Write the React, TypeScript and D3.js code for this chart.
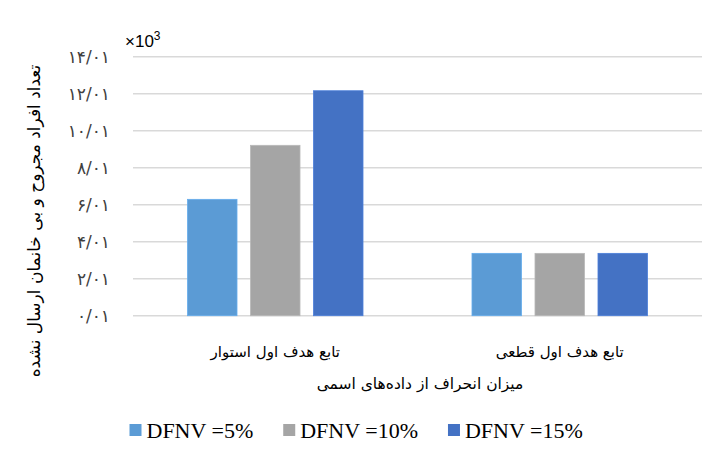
import * as d3 from 'd3';
import { useEffect, useRef } from 'react';

const width = 722;
const height = 464;
const marginTop = 56.7;
const marginLeft = 133;
const marginRight = 20;
const plotBottom = 315.7;

const categories = ['تابع هدف اول استوار', 'تابع هدف اول قطعی'];
const series = ['DFNV =5%', 'DFNV =10%', 'DFNV =15%'];
const colors = ['#5B9BD5', '#A5A5A5', '#4472C4'];
// مقادیر برای هر سری (به ترتیب دسته‌ها)
const dfnv5 = [6.29, 3.37];
const dfnv10 = [9.21, 3.37];
const dfnv15 = [12.16, 3.37];
const yTicks = [0, 2, 4, 6, 8, 10, 12, 14];
const yTickLabels = ['۰/۰۱', '۲/۰۱', '۴/۰۱', '۶/۰۱', '۸/۰۱', '۱۰/۰۱', '۱۲/۰۱', '۱۴/۰۱'];
const yTitle = 'تعداد افراد مجروح و بی خانمان ارسال نشده';
const xTitle = 'میزان انحراف از داده‌های اسمی';

const persianFont = '"DejaVu Sans", sans-serif';
const serifFont = '"Liberation Serif", "Times New Roman", serif';

export default function App() {
  const ref = useRef<HTMLDivElement>(null);

  useEffect(() => {
    if (!ref.current) return;
    const values = [dfnv5, dfnv10, dfnv15];

    const svg = d3
      .create('svg')
      .attr('width', width)
      .attr('height', height)
      .style('display', 'block');

    svg.append('rect').attr('width', width).attr('height', height).attr('fill', '#fff');

    // قاب نمودار
    svg
      .append('rect')
      .attr('x', 5.5)
      .attr('y', 6.5)
      .attr('width', width + 10)
      .attr('height', height + 10)
      .attr('fill', 'none')
      .attr('stroke', '#D9D9D9');

    const x0 = d3
      .scaleBand<string>()
      .domain(categories)
      .range([marginLeft, width - marginRight]);

    const x1 = d3
      .scaleBand<string>()
      .domain(series)
      .range([0, x0.bandwidth()])
      .paddingInner(0.214)
      .paddingOuter(0.865);

    const y = d3.scaleLinear().domain([0, 14]).range([plotBottom, marginTop]);

    // خطوط شبکه
    svg
      .append('g')
      .selectAll('line')
      .data(yTicks)
      .join('line')
      .attr('x1', marginLeft)
      .attr('x2', width - marginRight)
      .attr('y1', (d) => y(d))
      .attr('y2', (d) => y(d))
      .attr('stroke', '#D9D9D9')
      .attr('stroke-width', 1.5);

    // برچسب‌های محور y
    svg
      .append('g')
      .selectAll('text')
      .data(yTicks)
      .join('text')
      .attr('x', 110)
      .attr('y', (d) => y(d))
      .attr('dy', '0.35em')
      .attr('text-anchor', 'end')
      .attr('font-family', persianFont)
      .attr('font-size', 17)
      .attr('letter-spacing', 0.5)
      .attr('fill', '#404040')
      .text((_, i) => yTickLabels[i]);

    // ستون‌ها
    series.forEach((s, si) => {
      svg
        .append('g')
        .selectAll('rect')
        .data(categories)
        .join('rect')
        .attr('x', (c) => x0(c)! + x1(s)!)
        .attr('width', x1.bandwidth())
        .attr('y', (_, ci) => y(values[si][ci]))
        .attr('height', (_, ci) => plotBottom - y(values[si][ci]))
        .attr('fill', colors[si])
        .attr('stroke', d3.color(colors[si])!.brighter(0.3).formatHex())
        .attr('stroke-width', 0.8);
    });

    // برچسب دسته‌ها
    svg
      .append('g')
      .selectAll('text')
      .data(categories)
      .join('text')
      .attr('x', (c) => x0(c)! + x0.bandwidth() / 2)
      .attr('y', 357)
      .attr('text-anchor', 'middle')
      .attr('font-family', persianFont)
      .attr('font-size', 15)
      .attr('fill', '#000')
      .text((c) => c);

    // عنوان محور x
    svg
      .append('text')
      .attr('x', 420)
      .attr('y', 389)
      .attr('text-anchor', 'middle')
      .attr('font-family', persianFont)
      .attr('font-size', 15.5)
      .attr('fill', '#000')
      .text(xTitle);

    // عنوان محور y
    svg
      .append('text')
      .attr('transform', `translate(40,221) rotate(-90)`)
      .attr('text-anchor', 'middle')
      .attr('font-family', persianFont)
      .attr('font-size', 17)
      .attr('fill', '#000')
      .text(yTitle);

    // ×10³
    const mult = svg
      .append('text')
      .attr('x', 125)
      .attr('y', 47)
      .attr('font-family', '"Liberation Sans", Arial, sans-serif')
      .attr('font-size', 17)
      .attr('fill', '#000');
    mult.append('tspan').text('×10');
    mult.append('tspan').attr('font-size', 12).attr('dy', -7).text('3');

    // راهنما
    const legend = svg.append('g');
    ref.current.innerHTML = '';
    ref.current.appendChild(svg.node()!);
    let lx = 129.5;
    series.forEach((s, i) => {
      const item = legend.append('g');
      item
        .append('rect')
        .attr('x', lx)
        .attr('y', 424)
        .attr('width', 12)
        .attr('height', 12)
        .attr('fill', colors[i]);
      const t = item
        .append('text')
        .attr('x', lx + 17)
        .attr('y', 437.5)
        .attr('font-family', serifFont)
        .attr('font-size', 22)
        .attr('fill', '#000')
        .text(s);
      const w = (t.node() as SVGTextElement).getComputedTextLength();
      lx += 17 + w + 30;
    });
  }, []);

  return <div ref={ref} style={{ margin: -8 }} />;
}
